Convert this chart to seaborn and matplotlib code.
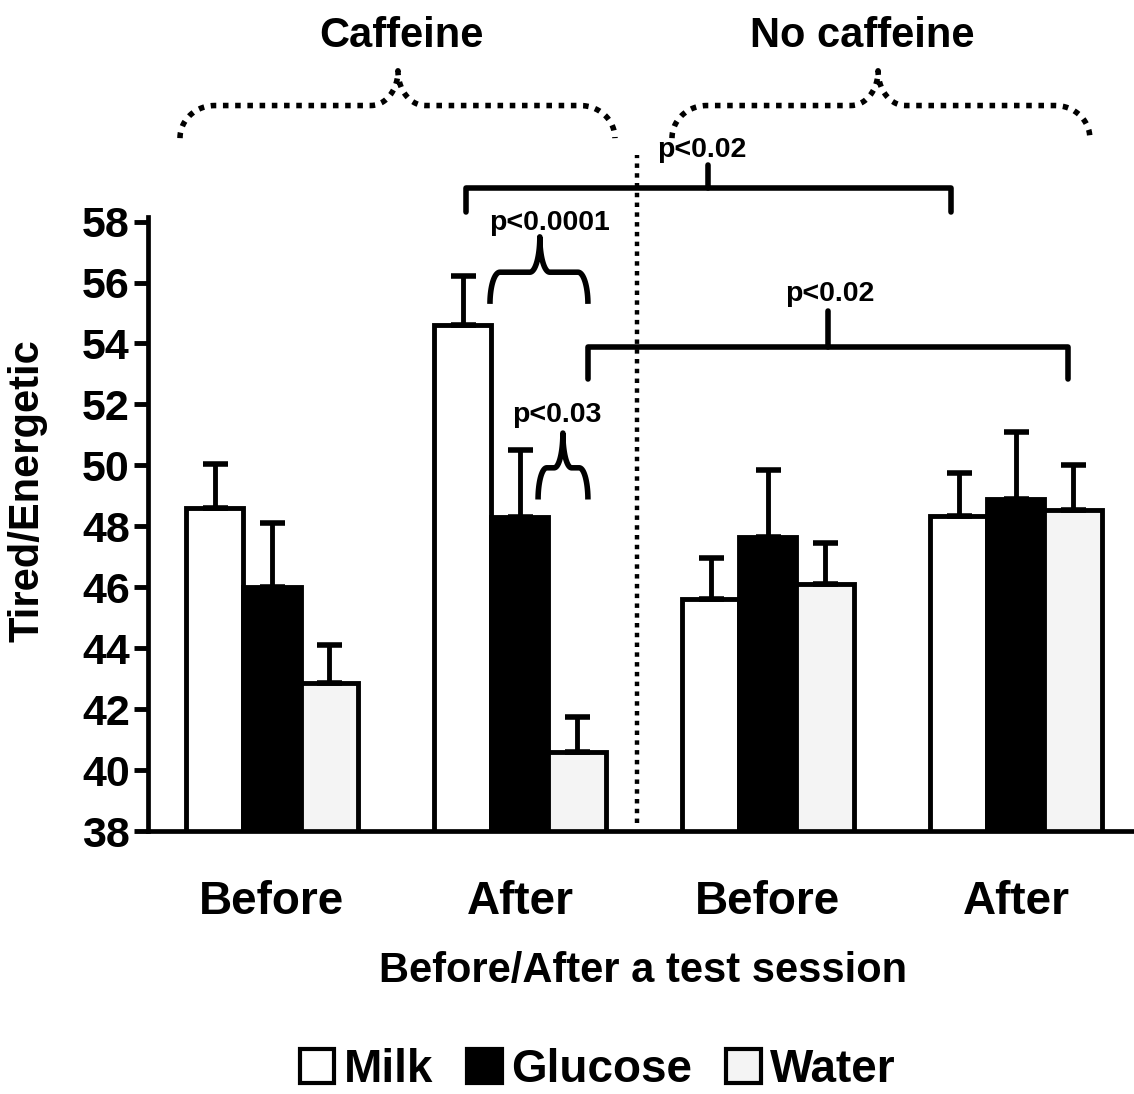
import numpy as np
import pandas as pd
import matplotlib
matplotlib.use("Agg")
import matplotlib.pyplot as plt
import seaborn as sns
from matplotlib.patches import Patch

# values
sessions = ["Caffeine Before", "Caffeine After", "No caffeine Before", "No caffeine After"]
session_labels = ["Before", "After", "Before", "After"]
drinks = ["Milk", "Glucose", "Water"]
milk = [48.6, 54.6, 45.6, 48.35]
glucose = [46.0, 48.3, 47.65, 48.9]
water = [42.85, 40.6, 46.1, 48.55]
milk_err = [1.45, 1.6, 1.35, 1.4]
glucose_err = [2.1, 2.2, 2.2, 2.2]
water_err = [1.25, 1.15, 1.35, 1.45]
colors = ["white", "black", "#f4f4f4"]

sns.set_style("white")
plt.rcParams['font.family'] = ['Liberation Sans', 'DejaVu Sans']
plt.rcParams['font.weight'] = 'bold'
for k in ['text.color', 'axes.labelcolor', 'xtick.color', 'ytick.color']:
    plt.rcParams[k] = 'black'

df = pd.DataFrame({
    "session": sessions * 3,
    "drink": np.repeat(drinks, len(sessions)),
    "score": milk + glucose + water,
})
errs = {"Milk": milk_err, "Glucose": glucose_err, "Water": water_err}

fig = plt.figure(figsize=(11.34, 10.94), dpi=100)
ax = fig.add_axes([0.1305, 0.2404, 0.8695, 0.5612])

sns.barplot(data=df, x="session", y="score", hue="drink", order=sessions,
            hue_order=drinks, palette=colors, saturation=1, edgecolor="black",
            linewidth=3.5, width=0.69, gap=0, errorbar=None, ax=ax)
if ax.get_legend() is not None:
    ax.get_legend().remove()

# upper-only error bars
for cont, d in zip(ax.containers, drinks):
    xs = [b.get_x() + b.get_width() / 2 for b in cont]
    hs = [b.get_height() for b in cont]
    e = errs[d]
    ax.errorbar(xs, hs, yerr=[np.zeros(len(e)), e], fmt="none", ecolor="black",
                elinewidth=3.5, capsize=9, capthick=4, zorder=1)

ax.set_xlim(-0.5, 3.476)
ax.set_ylim(38, 58.15)
ax.set_yticks(range(38, 59, 2))
ax.set_xticks(range(4))
ax.set_xticklabels(session_labels)
ax.set_xticks([-0.5, 0.5, 1.5, 2.5], minor=True)
ax.tick_params(axis="x", which="major", length=0, pad=35, labelsize=33)
ax.tick_params(axis="x", which="minor", length=9, width=3.5, direction="out")
ax.tick_params(axis="y", length=10, width=3.5, direction="out", pad=3, labelsize=31, left=True)
for s in ["top", "right"]:
    ax.spines[s].set_visible(False)
for s in ["left", "bottom"]:
    ax.spines[s].set_linewidth(3.4)
    ax.spines[s].set_color("black")

ax.set_xlabel("Before/After a test session", fontsize=30, fontweight="bold")
ax.set_ylabel("Tired/Energetic", fontsize=30, fontweight="bold")
ax.xaxis.set_label_coords(0.502, -0.195)
ax.yaxis.set_label_coords(-0.102, 0.554)


def brace(x0, x1, xm, y_end, y_flat, y_tip, r, r2, **kw):
    t = np.linspace(np.pi, np.pi / 2, 20)
    left_x = x0 + r + r * np.cos(t)
    left_y = y_end + (y_flat - y_end) * np.sin(t)
    t2 = np.linspace(-np.pi / 2, 0, 20)
    cusp_x = xm - r2 + r2 * np.cos(t2)
    cusp_y = y_tip + (y_tip - y_flat) * np.sin(t2)
    xa = np.concatenate([left_x, cusp_x])
    ya = np.concatenate([left_y, cusp_y])
    # mirror for the right half
    t3 = np.linspace(np.pi, 3 * np.pi / 2, 20)
    rc_x = xm + r2 + r2 * np.cos(t3)
    rc_y = y_tip + (y_tip - y_flat) * np.sin(t3)
    t4 = np.linspace(np.pi / 2, 0, 20)
    re_x = x1 - r + r * np.cos(t4)
    re_y = y_end + (y_flat - y_end) * np.sin(t4)
    xb = np.concatenate([rc_x, re_x])
    yb = np.concatenate([rc_y, re_y])
    ax.plot(np.concatenate([xa, xb]), np.concatenate([ya, yb]), color="black",
            clip_on=False, solid_capstyle="butt", **kw)


def bracket(x0, x1, y, y_end, xt, y_top, **kw):
    ax.plot([x0, x0, x1, x1], [y_end, y, y, y_end], color="black", lw=4,
            clip_on=False, solid_joinstyle="round", **kw)
    ax.plot([xt, xt], [y, y_top], color="black", lw=4, clip_on=False)


dots = (0, (1, 1.2))
# vertical separator
ax.plot([1.47, 1.47], [38.25, 60.2], color="black", lw=3.2, ls=dots, clip_on=False)

# group braces at the top
brace(-0.371, 1.383, 0.508, 60.74, 61.81, 62.95, 0.14, 0.11, lw=4, ls=dots)
brace(1.613, 3.298, 2.444, 60.74, 61.81, 62.95, 0.14, 0.11, lw=4, ls=dots)
ax.text(0.524, 64.09, "Caffeine", ha="center", va="center", fontsize=30, fontweight="bold")
ax.text(2.38, 64.09, "No caffeine", ha="center", va="center", fontsize=30, fontweight="bold")

# significance marks
pkw = dict(ha="center", va="center", fontsize=20.5, fontweight="bold")
bracket(0.782, 2.74, 59.1, 58.33, 1.758, 59.86)
ax.text(1.734, 60.35, "p<0.02", **pkw)
bracket(1.274, 3.21, 53.9, 52.85, 2.242, 55.07)
ax.text(2.25, 55.62, "p<0.02", **pkw)
brace(0.879, 1.274, 1.08, 55.3, 56.34, 57.5, 0.04, 0.04, lw=4)
ax.text(1.117, 57.97, "p<0.0001", **pkw)
brace(1.073, 1.274, 1.173, 48.88, 49.92, 51.06, 0.035, 0.035, lw=4)
ax.text(1.149, 51.65, "p<0.03", **pkw)

handles = [Patch(facecolor=c, edgecolor="black", linewidth=3) for c in colors]
fig.legend(handles, drinks, loc="center", bbox_to_anchor=(0.527, 0.022), ncol=3,
           frameon=False, fontsize=33, handlelength=0.75, handleheight=0.75,
           handletextpad=0.2, columnspacing=0.75)

fig.savefig("out.png", dpi=100)
